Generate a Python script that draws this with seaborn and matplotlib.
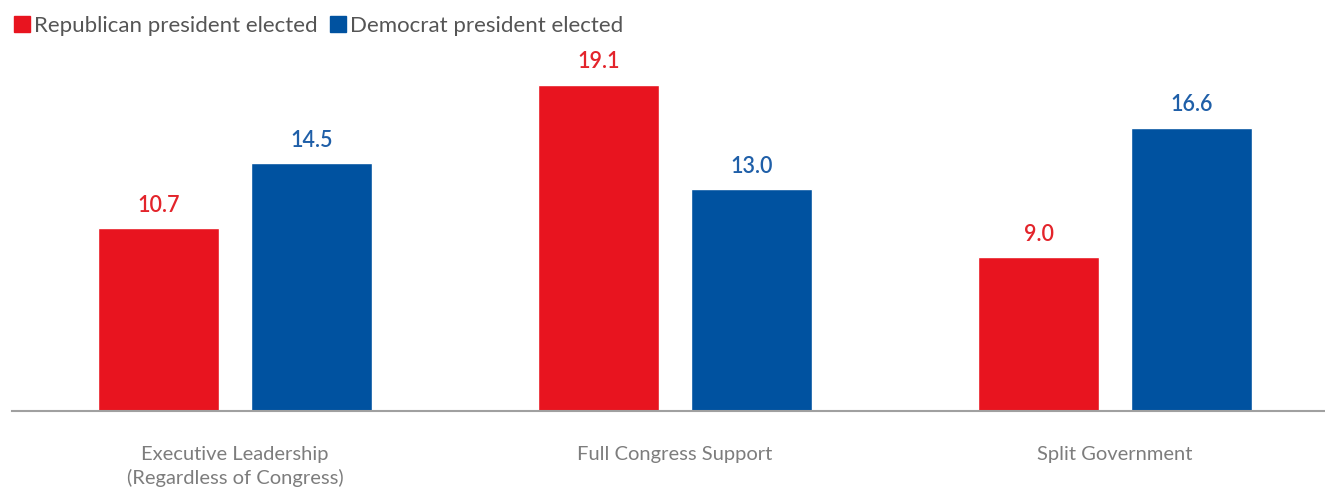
import matplotlib
matplotlib.use("Agg")
import matplotlib.pyplot as plt
import seaborn as sns
import pandas as pd
from matplotlib.lines import Line2D

categories = ["Executive Leadership\n(Regardless of Congress)", "Full Congress Support", "Split Government"]
series_names = ["Republican president elected", "Democrat president elected"]
republican = [10.7, 19.1, 9.0]
democrat = [14.5, 13.0, 16.6]

colors = ["#E8141F", "#0052A0"]
label_colors = ["#E3242B", "#1F5FA8"]

sns.set_theme(style="white")
plt.rcParams['font.family'] = ['Lato', 'DejaVu Sans']

df = pd.DataFrame({
    "category": categories * 2,
    "series": [series_names[0]] * 3 + [series_names[1]] * 3,
    "value": republican + democrat,
})

fig = plt.figure(figsize=(13.25, 4.88), dpi=100)
ax = fig.add_axes([0.009, 0.158, 0.991, 0.717])
sns.barplot(data=df, x="category", y="value", hue="series", order=categories,
            hue_order=series_names, palette=colors, width=0.695, gap=0.21,
            saturation=1, ax=ax, legend=False)

for cont, c in zip(ax.containers, label_colors):
    ax.bar_label(cont, fmt="%.1f", padding=9, color=c, fontsize=15.5, fontweight="semibold")

ax.set_xlim(-0.507, 2.477)
ax.set_ylim(0, 20.5)
ax.set_xlabel("")
ax.set_ylabel("")
ax.set_yticks([])
for s in ["top", "right", "left"]:
    ax.spines[s].set_visible(False)
ax.spines["bottom"].set_color("#A0A0A0")
ax.spines["bottom"].set_linewidth(1.5)
ax.tick_params(axis="x", length=0, pad=25, labelsize=14.5, labelcolor="#7D7D7D")
for t in ax.get_xticklabels():
    t.set_linespacing(1.4)
    t.set_verticalalignment("top")

handles = [Line2D([0], [0], marker="s", linestyle="", markersize=12, markerfacecolor=c,
                  markeredgecolor=c) for c in colors]
fig.legend(handles, series_names, loc="upper left", bbox_to_anchor=(-0.002, 1.0), ncol=2,
           frameon=False, fontsize=16, handletextpad=0.15, columnspacing=0.5,
           labelcolor="#555555", borderaxespad=0.3, handlelength=0.8)

fig.savefig("out.png", dpi=100)
